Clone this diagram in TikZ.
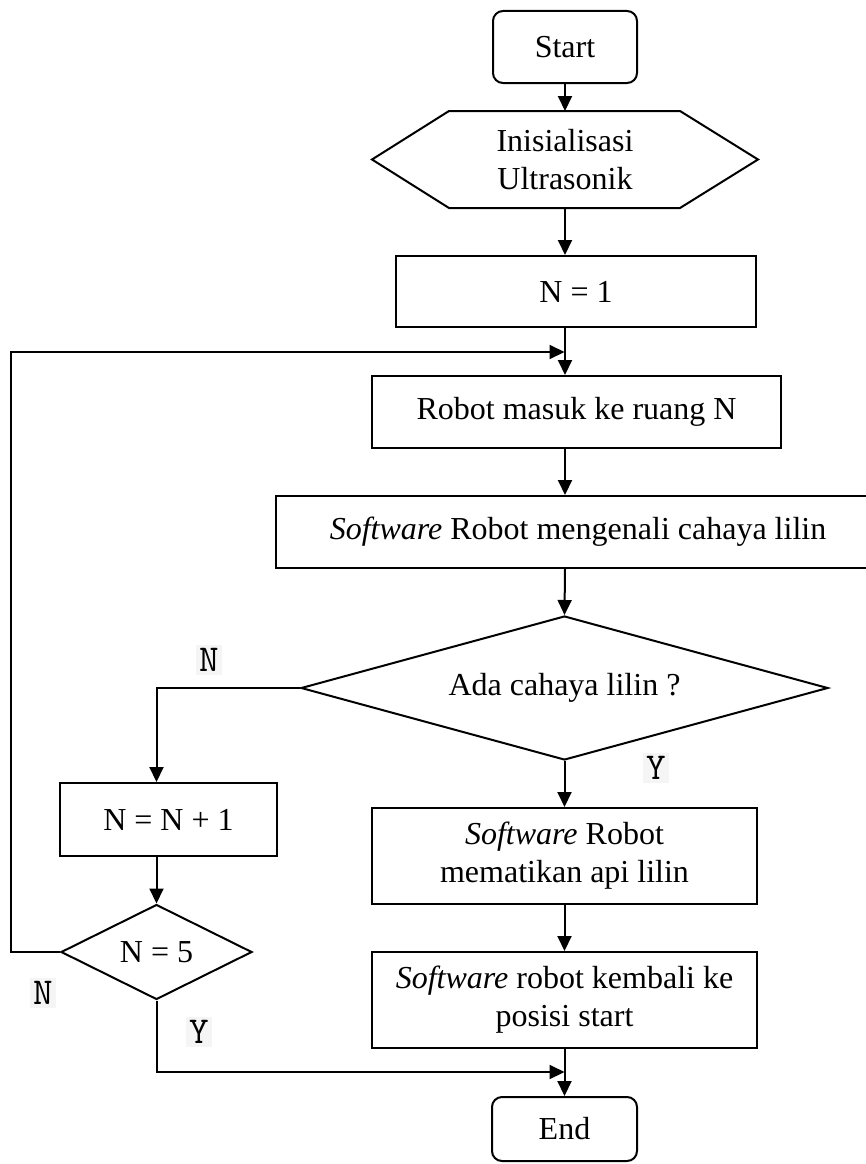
\documentclass[tikz,border=0pt]{standalone}
\usepackage{fontspec}
\setmainfont{Liberation Serif}
\usetikzlibrary{arrows.meta,shapes.geometric}

\begin{document}
\begin{tikzpicture}[x=1pt,y=-1pt,
  line width=2pt,
  every node/.style={font=\fontsize{32}{38}\selectfont, inner sep=0pt},
  proc/.style={draw, rectangle, align=center},
  term/.style={draw, rectangle, rounded corners=10pt},
  decision/.style={draw, diamond, inner sep=0pt},
  flow/.style={-{Triangle[length=15pt,width=14pt]}},
  yn/.style={font=\ttfamily\fontsize{38}{40}\selectfont, fill=black!4, inner sep=3pt},
]
\useasboundingbox (0,0) rectangle (865,1164);

% main column
\node[term, minimum width=144pt, minimum height=72pt] (start) at (565,47) {Start};
\node[minimum width=384pt, minimum height=95pt, align=center] (init) at (565,159.5) {Inisialisasi\\Ultrasonik};
\draw (init.west) -- ([xshift=77pt]init.north west) -- ([xshift=-78pt]init.north east)
  -- (init.east) -- ([xshift=-78pt]init.south east) -- ([xshift=77pt]init.south west) -- cycle;
\node[proc, minimum width=360pt, minimum height=71pt] (n1) at (576,291.5) {N = 1};
\node[proc, minimum width=409pt, minimum height=72pt] (robot) at (576.5,412) {Robot masuk ke ruang N};
\node[proc, minimum width=604pt, minimum height=72pt] (detect) at (578,532) {\textit{Software} Robot mengenali cahaya lilin};
\node[decision, shape aspect=3.66, minimum width=527pt, minimum height=144pt] (ada) at (564.5,688) {Ada cahaya lilin ?};
\node[proc, minimum width=385pt, minimum height=96pt] (padam) at (564.5,856) {\textit{Software} Robot\\mematikan api lilin};
\node[proc, minimum width=385pt, minimum height=96pt] (balik) at (564.5,1000) {\textit{Software} robot kembali ke\\posisi start};
\node[term, minimum width=145pt, minimum height=64pt] (end) at (564.5,1129) {End};

% counter branch
\node[proc, minimum width=217pt, minimum height=73pt] (inc) at (168.5,819.5) {N = N + 1};
\node[decision, shape aspect=2.01, minimum width=191pt, minimum height=95pt] (five) at (156.5,952) {N = 5};

% junction points
\coordinate (join) at (564.5,352);
\coordinate (merge) at (564.5,1072);

% connectors
\draw[flow] (start.south) -- (init.north);
\draw[flow] (init.south) -- (init.south |- n1.north);
\draw[flow] (n1.south -| start) -- (robot.north -| start);
\draw[flow] (five.west) -- ++(-49,0) |- (join);
\draw[flow] (robot.south -| start) -- (detect.north -| start);
\draw[flow] (detect.south -| start) -- (ada.north);
\draw[flow] (ada.west) -| (inc.north -| five);
\draw[flow] (inc.south -| five) -- (five.north);
\draw[flow] (ada.south) -- (padam.north);
\draw[flow] (padam.south) -- (balik.north);
\draw[flow] (balik.south) -- (end.north);
\draw[flow] (five.south) |- (merge);

% branch labels
\node[yn] (noA) at (209,660) {N};
\node[yn] (yesA) at (656,768) {Y};
\node[yn] (noB) at (43,993) {N};
\node[yn] (yesB) at (199,1032) {Y};
\end{tikzpicture}
\end{document}
